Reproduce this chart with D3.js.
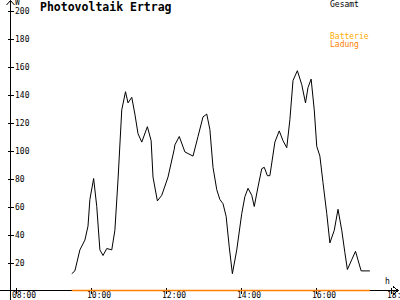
<!DOCTYPE html>
<meta charset="utf-8">

<head>
  <title>Photovoltaik Ertrag</title>
</head>

<style>
  body { margin: 0; background: #fff; }
  svg text { font-family: "DejaVu Sans Mono", monospace; font-size: 8px; }
  .axis line, .axis path { shape-rendering: crispEdges; }
</style>

<body>
  <svg width="400" height="300"></svg>

  <script src="https://cdnjs.cloudflare.com/ajax/libs/d3/7.8.5/d3.min.js"></script>

  <script>
    // Gesamt (W) over the day
    var times = ['09:30', '09:35', '09:43', '09:51', '09:56', '09:59', '10:05', '10:10', '10:15', '10:20',
      '10:26', '10:34', '10:39', '10:44', '10:50', '10:56', '11:00', '11:06', '11:11', '11:16',
      '11:22', '11:31', '11:37', '11:40', '11:47', '11:54', '12:04', '12:14', '12:15', '12:22',
      '12:31', '12:44', '12:52', '13:00', '13:06', '13:11', '13:16', '13:22', '13:27', '13:32',
      '13:37', '13:42', '13:47', '13:54', '14:02', '14:07', '14:12', '14:18', '14:22', '14:28',
      '14:34', '14:38', '14:43', '14:47', '14:55', '15:02', '15:08', '15:14', '15:19', '15:24',
      '15:31', '15:38', '15:44', '15:48', '15:53', '15:58', '16:02', '16:07', '16:12', '16:18',
      '16:23', '16:30', '16:36', '16:42', '16:47', '16:51', '16:58', '17:04', '17:13', '17:27'];
    var gesamt = [12, 14, 29, 36, 46, 65, 80, 60, 29, 25,
      30, 29, 43, 79, 129, 142, 134, 138, 126, 112,
      106, 117, 107, 81, 64, 68, 81, 101, 104, 110,
      99, 96, 110, 124, 126, 115, 88, 72, 65, 62,
      53, 31, 12, 29, 55, 67, 73, 68, 60, 74,
      87, 88, 82, 82, 106, 114, 107, 102, 122, 150,
      157, 147, 134, 145, 151, 129, 103, 96, 77, 55,
      34, 43, 58, 43, 27, 15, 22, 28, 14, 14];

    // Batterie Ladung
    var ladungTimes = ['09:30', '17:27'];
    var ladung = [0, 0];

    var yTicks = [20, 40, 60, 80, 100, 120, 140, 160, 180, 200];
    var xTicks = ['08:00', '10:00', '12:00', '14:00', '16:00', '18:00'];

    function minutes(t) {
      var p = t.split(':');
      return +p[0] * 60 + +p[1];
    }

    var svg = d3.select('svg');

    var x = d3.scaleLinear().domain([480, 1080]).range([15.5, 390.5]);
    var y = d3.scaleLinear().domain([0, 200]).range([290.5, 10.5]);

    // y axis
    var gy = svg.append('g')
      .attr('class', 'axis')
      .attr('transform', 'translate(10.5,0)')
      .call(d3.axisRight(y).tickValues(yTicks).tickSize(3).tickPadding(1.5));
    gy.select('.domain').remove();
    gy.selectAll('.tick line').attr('x1', -3).attr('stroke', '#000');
    gy.selectAll('.tick text').attr('dy', 3).attr('fill', '#000')
      .style('font-family', '"DejaVu Sans Mono", monospace').style('font-size', '8px');

    // x axis
    var gx = svg.append('g')
      .attr('class', 'axis')
      .attr('transform', 'translate(0,290.5)')
      .call(d3.axisBottom(x).tickValues(xTicks.map(minutes))
        .tickFormat(function(d, i) { return xTicks[i]; }).tickSize(3));
    gx.select('.domain').remove();
    gx.selectAll('.tick line').attr('y1', -3).attr('stroke', '#000');
    gx.selectAll('.tick text').attr('y', 7.5).attr('dy', 0).attr('x', -4)
      .attr('fill', '#000').style('text-anchor', 'start')
      .style('font-family', '"DejaVu Sans Mono", monospace').style('font-size', '8px');

    // axis lines with arrows
    svg.append('path')
      .attr('d', 'M0,290.5H398M393,286.5L398,290.5L393,294.5')
      .attr('fill', 'none').attr('stroke', '#000').style('shape-rendering', 'crispEdges');
    svg.append('path')
      .attr('d', 'M10.5,300V0.5M6.5,5L10.5,0.5L14.5,5')
      .attr('fill', 'none').attr('stroke', '#000');

    svg.append('text').attr('x', 15).attr('y', 5).text('W');
    svg.append('text').attr('x', 385).attr('y', 284).text('h');

    // Ladung line
    var lineL = d3.line()
      .x(function(d, i) { return x(minutes(ladungTimes[i])); })
      .y(function(d) { return y(d); });
    svg.append('path')
      .datum(ladung)
      .attr('d', lineL)
      .attr('fill', 'none')
      .attr('stroke', '#ff8000')
      .attr('stroke-width', 1.5);

    // Gesamt line
    var line = d3.line()
      .x(function(d, i) { return x(minutes(times[i])); })
      .y(function(d) { return y(d); });
    svg.append('path')
      .datum(gesamt)
      .attr('d', line)
      .attr('fill', 'none')
      .attr('stroke', '#000')
      .attr('stroke-width', 1);

    // title and legend
    svg.append('text')
      .attr('x', 40).attr('y', 11)
      .style('font-size', '11.5px').style('font-weight', 'bold')
      .text('Photovoltaik Ertrag');
    svg.append('text').attr('x', 330).attr('y', 7).attr('fill', '#000').text('Gesamt');
    svg.append('text').attr('x', 330).attr('y', 39).attr('fill', '#ffaa00').text('Batterie');
    svg.append('text').attr('x', 330).attr('y', 47).attr('fill', '#ff8000').text('Ladung');
  </script>
</body>

</html>
